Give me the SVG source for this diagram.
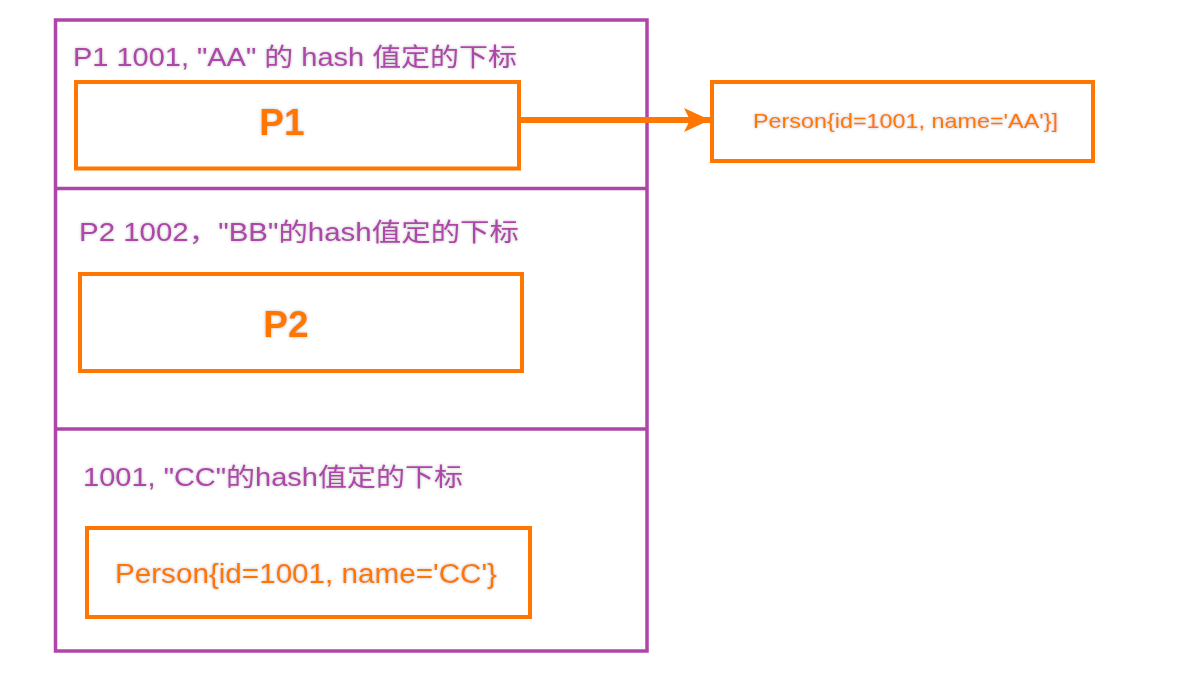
<svg xmlns="http://www.w3.org/2000/svg" width="1182" height="678" viewBox="0 0 1182 678">
  <defs>
    <filter id="halo" x="-5%" y="-30%" width="110%" height="160%">
      <feDropShadow dx="0" dy="0" stdDeviation="1.8" flood-color="#8a8a8a" flood-opacity="0.6"/>
    </filter>
    <marker id="arrow" markerUnits="userSpaceOnUse" markerWidth="28" markerHeight="26" refX="26" refY="12" orient="auto" viewBox="0 0 28 26">
      <path d="M0,0 L26,12 L0,24 L6,12 Z" fill="#FF7700"/>
    </marker>
  </defs>
  <style>
    .outer { fill: none; stroke: #AE46A9; stroke-width: 3.5; }
    .box { fill: none; stroke: #FF7700; stroke-width: 4; }
    .title { font-family: "Liberation Sans", "Noto Sans CJK SC", sans-serif; font-size: 25px; fill: #AE46A9; filter: url(#halo); }
    .big { font-family: "Liberation Sans", "Noto Sans CJK SC", sans-serif; font-size: 37px; font-weight: bold; fill: #FF7700; filter: url(#halo); text-anchor: middle; }
    .val { font-family: "Liberation Sans", "Noto Sans CJK SC", sans-serif; fill: #FF7700; filter: url(#halo); }
    .conn { stroke: #FF7700; stroke-width: 6; fill: none; }
  </style>
  <rect width="1182" height="678" fill="#ffffff"/>

  <g id="table">
    <rect class="outer" x="55.5" y="20" width="591.5" height="631"/>
    <line class="outer" x1="55.5" y1="188.5" x2="647" y2="188.5"/>
    <line class="outer" x1="55.5" y1="429" x2="647" y2="429"/>
  </g>

  <g id="slot1">
    <text class="title" x="73" y="66" textLength="444" lengthAdjust="spacingAndGlyphs">P1 1001, "AA" 的 hash 值定的下标</text>
  </g>
  <g id="node-p1">
    <rect class="box" x="76" y="82" width="443" height="86.5"/>
    <text class="big" x="282" y="135">P1</text>
  </g>

  <g id="slot2">
    <text class="title" x="79" y="241" textLength="440" lengthAdjust="spacingAndGlyphs">P2 1002，"BB"的hash值定的下标</text>
  </g>
  <g id="node-p2">
    <rect class="box" x="80" y="274" width="442" height="97"/>
    <text class="big" x="286" y="337">P2</text>
  </g>

  <g id="slot3">
    <text class="title" x="83" y="486" textLength="380" lengthAdjust="spacingAndGlyphs">1001, "CC"的hash值定的下标</text>
  </g>
  <g id="node-cc">
    <rect class="box" x="87" y="528" width="443" height="89"/>
    <text class="val" x="115" y="583" font-size="27" textLength="382" lengthAdjust="spacingAndGlyphs">Person{id=1001, name='CC'}</text>
  </g>

  <g id="node-aa">
    <rect class="box" x="712" y="82" width="381" height="79"/>
    <text class="val" x="753" y="128" font-size="21" textLength="305" lengthAdjust="spacingAndGlyphs">Person{id=1001, name='AA'}]</text>
  </g>

  <g id="connectors">
    <line class="conn" x1="519" y1="120" x2="710" y2="120" marker-end="url(#arrow)"/>
  </g>
</svg>
